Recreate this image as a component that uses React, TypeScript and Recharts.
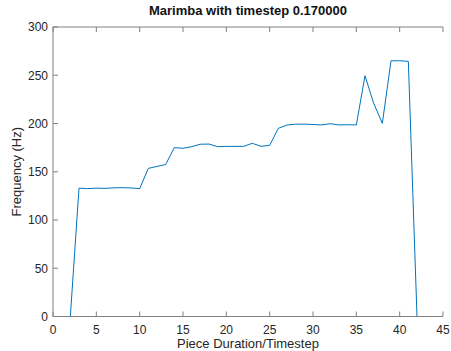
import { LineChart, Line, XAxis, YAxis } from "recharts";

const steps = [
  1, 2, 3, 4, 5, 6, 7, 8, 9, 10, 11, 12, 13, 14, 15, 16, 17, 18, 19, 20, 21,
  22, 23, 24, 25, 26, 27, 28, 29, 30, 31, 32, 33, 34, 35, 36, 37, 38, 39, 40,
  41, 42,
];
const freqs = [
  0, 0, 133, 132.5, 133, 132.8, 133.3, 133.5, 133.2, 132.5, 153.5, 155.5,
  157.5, 175, 174.3, 176, 178.5, 178.7, 176, 176.3, 176.3, 176.3, 179.5, 176.3,
  177.4, 195, 198.4, 199.3, 199.3, 199, 198.5, 199.8, 198.5, 198.7, 198.5,
  249.5, 221, 200.2, 265, 265, 264.4, 0,
];
const xTicks = [0, 5, 10, 15, 20, 25, 30, 35, 40, 45];
const yTicks = [0, 50, 100, 150, 200, 250, 300];

const data = steps.map((s, i) => ({ step: s, freq: freqs[i] }));

const axisColor = "#808080";
const textColor = "#262626";
const font = "'Liberation Sans', Arial, sans-serif";
const tickStyle = { fill: textColor, fontSize: 12, fontFamily: font };
const noLabel = () => <g />;

export default function App() {
  return (
    <div style={{ position: "absolute", left: 0, top: 0, background: "#fff" }}>
      <LineChart
        width={451}
        height={351}
        data={data}
        margin={{ top: 0, right: 8, left: 0, bottom: 0 }}
      >
        <XAxis
          xAxisId="bottom"
          dataKey="step"
          type="number"
          domain={[0, 45]}
          ticks={xTicks}
          height={34.5}
          stroke={axisColor}
          tickSize={-5}
          tickMargin={14}
          tick={tickStyle}
          label={{
            value: "Piece Duration/Timestep",
            position: "insideBottom",
            offset: 3,
            style: { fill: textColor, fontSize: 13, fontFamily: font },
          }}
        />
        <XAxis
          xAxisId="top"
          orientation="top"
          dataKey="step"
          type="number"
          domain={[0, 45]}
          ticks={xTicks}
          height={27}
          stroke={axisColor}
          tickSize={-5}
          tick={noLabel}
          label={{
            value: "Marimba with timestep 0.170000",
            position: "insideTop",
            offset: 6,
            style: {
              fill: "#111",
              fontSize: 13,
              fontWeight: "bold",
              fontFamily: font,
            },
          }}
        />
        <YAxis
          yAxisId="left"
          domain={[0, 300]}
          ticks={yTicks}
          width={53}
          stroke={axisColor}
          tickSize={-5}
          tickMargin={10}
          tick={tickStyle}
          label={{
            value: "Frequency (Hz)",
            angle: -90,
            position: "insideLeft",
            offset: 16,
            style: {
              fill: textColor,
              fontSize: 13,
              fontFamily: font,
              textAnchor: "middle",
            },
          }}
        />
        <YAxis
          yAxisId="right"
          orientation="right"
          domain={[0, 300]}
          ticks={yTicks}
          width={0}
          stroke={axisColor}
          tickSize={-5}
          tick={noLabel}
        />
        <Line
          xAxisId="bottom"
          yAxisId="left"
          type="linear"
          dataKey="freq"
          stroke="#0072BD"
          strokeWidth={1}
          dot={false}
          isAnimationActive={false}
        />
      </LineChart>
    </div>
  );
}
